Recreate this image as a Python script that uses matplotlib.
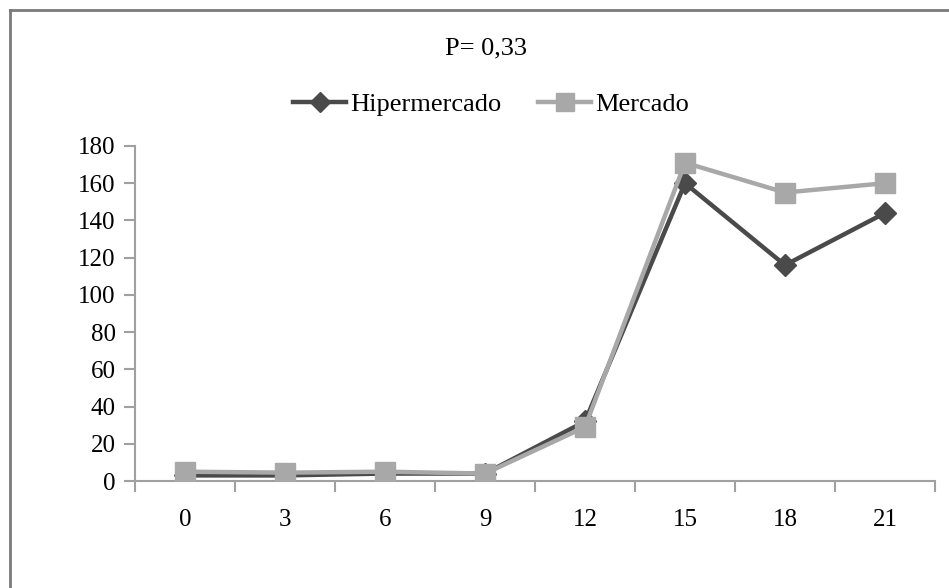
import matplotlib.pyplot as plt
from matplotlib.lines import Line2D

plt.rcParams['font.family'] = ['Liberation Serif', 'DejaVu Serif']

horas = ['0', '3', '6', '9', '12', '15', '18', '21']
hipermercado = [3, 3, 4, 4, 32, 160, 116, 144]
mercado = [5, 4.5, 5, 4, 29, 171, 155, 160]

fig = plt.figure(figsize=(9.49, 5.88), dpi=100)
ax = fig.add_axes([135 / 949, 1 - 481 / 588, 800 / 949, 335 / 588])

x = list(range(len(horas)))
ax.plot(x, hipermercado, color='#4a4a4a', lw=3.2, marker='D', ms=11,
        label='Hipermercado', zorder=3)
ax.plot(x, mercado, color='#a8a8a8', lw=3.2, marker='s', ms=15,
        label='Mercado', zorder=4)

ax.set_xlim(-0.5, len(horas) - 0.5)
ax.set_ylim(0, 180)
ax.set_yticks(range(0, 181, 20))
ax.set_xticks(x)
ax.set_xticklabels(horas)
ax.set_xticks([i + 0.5 for i in range(-1, len(horas))], minor=True)

for s in ['top', 'right']:
    ax.spines[s].set_visible(False)
for s in ['left', 'bottom']:
    ax.spines[s].set_color('#a0a0a0')
    ax.spines[s].set_linewidth(1.5)

ax.tick_params(axis='y', direction='out', length=8, width=1.5, color='#a0a0a0',
               labelsize=18, pad=6)
ax.tick_params(axis='x', which='major', length=0, labelsize=18, pad=20)
ax.tick_params(axis='x', which='minor', direction='out', length=8, width=1.5,
               color='#a0a0a0')

fig.text(486 / 949, 1 - 48 / 588, 'P= 0,33', ha='center', va='center', fontsize=19)

handles = [Line2D([], [], color='#4a4a4a', lw=3.2, marker='D', ms=10),
           Line2D([], [], color='#a8a8a8', lw=3.2, marker='s', ms=13)]
fig.legend(handles, ['Hipermercado', 'Mercado'], loc='center',
           bbox_to_anchor=(491 / 949, 1 - 104 / 588), ncol=2, frameon=False,
           fontsize=19, handlelength=2.0, handletextpad=0.15, columnspacing=1.4)

# chart area border (left and top only)
fig.add_artist(Line2D([10 / 949, 10 / 949], [0, 1 - 10 / 588], transform=fig.transFigure,
                      color='#7a7a7a', lw=2))
fig.add_artist(Line2D([10 / 949, 1], [1 - 10 / 588, 1 - 10 / 588], transform=fig.transFigure,
                      color='#7a7a7a', lw=2))

fig.savefig('out.png', dpi=100)
